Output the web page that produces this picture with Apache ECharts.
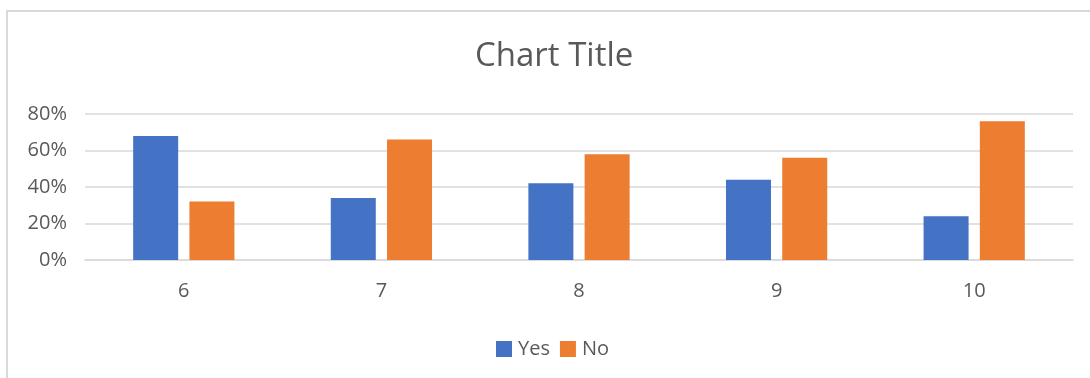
<!DOCTYPE html>
<html>
<head>
<meta charset="utf-8">
<script src="https://cdn.jsdelivr.net/npm/echarts@6/dist/echarts.min.js"></script>
<style>
html,body{margin:0;padding:0;background:#fff;}
#c{width:1090px;height:378px;}
</style>
</head>
<body>
<div id="c"></div>
<script>
const categories = ['6', '7', '8', '9', '10'];
const yesValues = [68, 34, 42, 44, 24];
const noValues = [32, 66, 58, 56, 76];
const seriesNames = ['Yes', 'No'];
const yTicks = { min: 0, max: 80, interval: 20 };

const chart = echarts.init(document.getElementById('c'), null, { renderer: 'canvas' });
const font = '"Open Sans", sans-serif';
chart.setOption({
  animation: false,
  backgroundColor: '#ffffff',
  graphic: [{
    type: 'rect',
    shape: { x: 7, y: 11, width: 1200, height: 500 },
    style: { fill: 'none', stroke: '#d9d9d9', lineWidth: 2 },
    silent: true
  }],
  title: {
    text: 'Chart Title',
    left: 470,
    top: 35,
    textStyle: { fontFamily: font, fontSize: 33, fontWeight: 'normal', color: '#595959' }
  },
  legend: {
    bottom: 14,
    left: 491,
    itemWidth: 16,
    itemHeight: 16,
    itemGap: 10,
    icon: 'rect',
    textStyle: { fontFamily: font, fontSize: 20, color: '#595959', padding: [0, 0, 0, 1] },
    data: seriesNames
  },
  grid: { left: 85, right: 17, top: 114, bottom: 118, containLabel: false },
  xAxis: {
    type: 'category',
    data: categories,
    axisLine: { lineStyle: { color: '#d9d9d9', width: 1.5 } },
    axisTick: { show: false },
    axisLabel: { fontFamily: font, fontSize: 20, color: '#595959', margin: 21 }
  },
  yAxis: {
    type: 'value',
    min: yTicks.min,
    max: yTicks.max,
    interval: yTicks.interval,
    axisLine: { show: false },
    axisTick: { show: false },
    splitLine: { lineStyle: { color: '#d9d9d9', width: 1.5 } },
    axisLabel: { fontFamily: font, fontSize: 20, color: '#595959', margin: 18, formatter: '{value}%' }
  },
  series: [
    { name: seriesNames[0], type: 'bar', data: yesValues, barWidth: 45, barGap: '25%', itemStyle: { color: '#4472C4' } },
    { name: seriesNames[1], type: 'bar', data: noValues, barWidth: 45, barGap: '25%', itemStyle: { color: '#ED7D31' } }
  ]
});
</script>
</body>
</html>
